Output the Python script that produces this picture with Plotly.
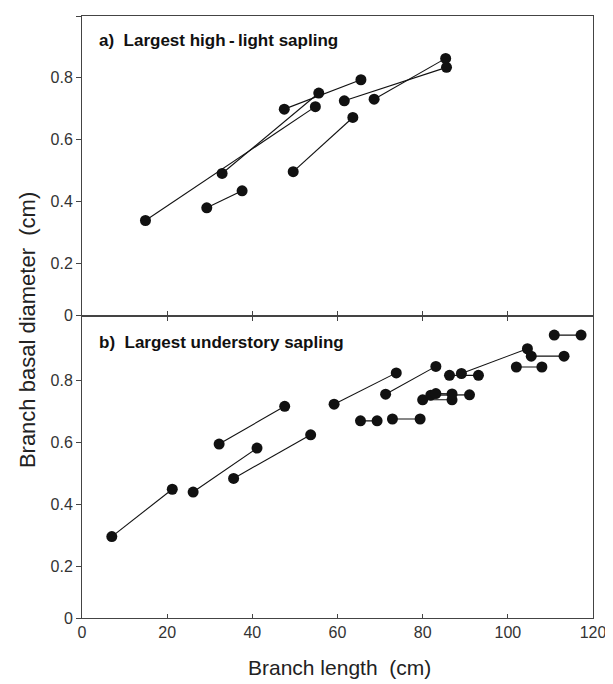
import plotly.graph_objects as go

# ---- data: each connected pair (start -> end) ----
# a) Largest high-light sapling
a_x0 = [14.9, 32.9, 47.5, 29.3, 49.6, 61.6, 68.6]
a_y0 = [0.339, 0.491, 0.699, 0.380, 0.497, 0.726, 0.731]
a_x1 = [54.8, 55.6, 65.5, 37.6, 63.6, 85.6, 85.4]
a_y1 = [0.707, 0.751, 0.794, 0.435, 0.672, 0.834, 0.863]

# b) Largest understory sapling
b_x0 = [7.0, 26.1, 32.2, 35.6, 59.2, 71.3, 65.4, 72.9, 80.0, 81.9, 83.1, 86.3, 89.1, 105.5, 102.0, 110.9]
b_y0 = [0.295, 0.439, 0.594, 0.483, 0.723, 0.755, 0.669, 0.675, 0.737, 0.752, 0.757, 0.816, 0.822, 0.878, 0.843, 0.946]
b_x1 = [21.2, 41.1, 47.6, 53.7, 73.8, 83.1, 69.3, 79.4, 86.9, 91.0, 86.9, 93.1, 104.6, 113.2, 108.0, 117.2]
b_y1 = [0.448, 0.581, 0.716, 0.624, 0.824, 0.845, 0.669, 0.675, 0.737, 0.753, 0.756, 0.816, 0.902, 0.878, 0.843, 0.946]

x_ticks = [0, 20, 40, 60, 80, 100, 120]
x_ticktext = ["0", "20", "40", "60", "80", "100", "120"]
ya_ticks = [0.032, 0.2, 0.4, 0.6, 0.8, 1.0]
ya_ticktext = ["0", "0.2", "0.4", "0.6", "0.8", "1"]
yb_ticks = [0.032, 0.2, 0.4, 0.6, 0.8]
yb_ticktext = ["0", "0.2", "0.4", "0.6", "0.8"]

label_a = "a)  Largest high\u2009-\u2009light sapling"
label_b = "b)  Largest understory sapling"
x_title = "Branch length  (cm)"
y_title = "Branch basal diameter  (cm)"


def pairs(x0, y0, x1, y1):
    xs, ys = [], []
    for i in range(len(x0)):
        xs += [x0[i], x1[i], None]
        ys += [y0[i], y1[i], None]
    return xs, ys


FONT = "Liberation Sans, Arial, Helvetica, sans-serif"
INK = "#111111"

fig = go.Figure()
ax, ay = pairs(a_x0, a_y0, a_x1, a_y1)
bx, by = pairs(b_x0, b_y0, b_x1, b_y1)
mk = dict(size=11, color=INK)
fig.add_trace(go.Scatter(x=ax, y=ay, mode="lines+markers", line=dict(color=INK, width=1.1),
                         marker=mk, xaxis="x", yaxis="y", showlegend=False, connectgaps=False))
fig.add_trace(go.Scatter(x=bx, y=by, mode="lines+markers", line=dict(color=INK, width=1.1),
                         marker=mk, xaxis="x2", yaxis="y2", showlegend=False, connectgaps=False))

axis_common = dict(showgrid=False, zeroline=False, showline=True, linecolor="#444",
                   linewidth=1, tickcolor="#444",
                   tickfont=dict(family=FONT, size=16, color="#333"))

# the page body adds an 8px offset, so the figure is sized/margined to compensate
fig.update_layout(
    width=605, height=676,
    margin=dict(l=74, r=14, t=7, b=66),
    paper_bgcolor="white", plot_bgcolor="white",
    xaxis=dict(**axis_common, range=[0, 120], domain=[0, 1], anchor="y",
               tickvals=x_ticks, ticks="inside", ticklen=4, showticklabels=False, mirror=True),
    yaxis=dict(**axis_common, range=[0.032, 1.0], domain=[0.5025, 1], anchor="x",
               tickvals=ya_ticks, ticktext=ya_ticktext, ticks="outside", ticklen=5, mirror=True),
    xaxis2=dict(**axis_common, range=[0, 120], domain=[0, 1], anchor="y2",
                tickvals=x_ticks, ticktext=x_ticktext, ticks="inside", ticklen=4, mirror="ticks"),
    yaxis2=dict(**axis_common, range=[0.032, 1.003], domain=[0, 0.4992], anchor="x2",
                tickvals=yb_ticks, ticktext=yb_ticktext, ticks="outside", ticklen=5, mirror=True),
    annotations=[
        dict(text="<b>" + label_a + "</b>", xref="paper", yref="paper", x=0.0284, y=0.9585,
             xanchor="left", yanchor="middle", showarrow=False,
             font=dict(family=FONT, size=17, color=INK)),
        dict(text="<b>" + label_b + "</b>", xref="paper", yref="paper", x=0.0284, y=0.4577,
             xanchor="left", yanchor="middle", showarrow=False,
             font=dict(family=FONT, size=17, color=INK)),
        dict(text=x_title, xref="paper", yref="paper", x=0.5048, y=-0.0829, xanchor="center",
             yanchor="middle", showarrow=False, font=dict(family=FONT, size=21, color="#222")),
        dict(text=y_title, xref="paper", yref="paper", x=-0.1064, y=0.4776, xanchor="center",
             yanchor="middle", textangle=-90, showarrow=False,
             font=dict(family=FONT, size=22, color="#222")),
    ],
)

fig.write_html("out.html")
